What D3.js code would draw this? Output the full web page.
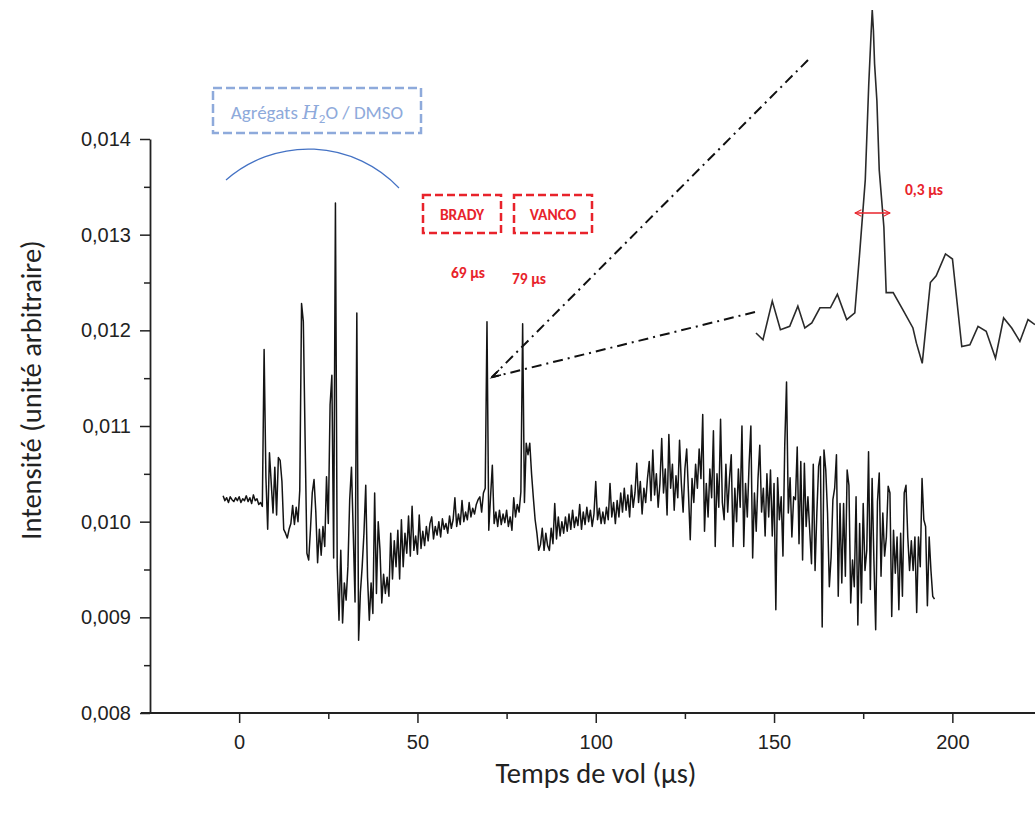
<!DOCTYPE html>
<html>
<head>
<meta charset="utf-8">
<script src="https://cdn.jsdelivr.net/npm/d3@7"></script>
<style>
  body { margin: 0; background: #fff; }
  svg { display: block; }
  .axis path, .axis line { stroke: #222; }
  .y.axis text { font-family: "Liberation Sans", Arial, sans-serif; font-size: 20px; fill: #222; }
  .x.axis text { font-family: "Liberation Sans Narrow", "Liberation Sans", Arial, sans-serif; font-size: 20px; fill: #222; }
  .title { font-family: Carlito, Lato, "Open Sans", sans-serif; font-size: 28.5px; fill: #222; }
  .note { font-family: Carlito, Lato, "Open Sans", sans-serif; font-weight: bold; font-size: 15.5px; fill: #e8232b; }
</style>
</head>
<body>
<svg class="chart"></svg>
<script>
// intensity in units of 1e-3 (arbitrary), one sample every 0.5 µs starting at -4.5 µs
var tStart = -4.5, tStep = 0.5;
var intensity = [
  10.27, 10.22, 10.25, 10.20, 10.26, 10.23, 10.21, 10.25, 10.22,
  10.26, 10.20, 10.24, 10.22, 10.27, 10.21, 10.25, 10.19, 10.28, 10.22, 10.24, 10.18, 10.20, 10.16,
  11.80, 10.47, 9.92, 10.72, 10.40, 10.09,
  10.57, 10.07, 10.67, 10.64, 10.42, 9.92,
  9.88, 9.83, 9.92, 9.98, 10.17, 9.97, 10.15, 10.00,
  10.33, 12.28, 12.09, 10.85, 9.67, 9.60,
  9.92, 10.30, 10.44, 10.10, 9.57, 9.92, 9.65, 9.95, 9.74, 10.47,
  9.98, 11.22, 11.53, 9.62, 13.33, 9.53,
  8.97, 9.70, 8.94, 9.36, 9.18, 9.53, 10.23, 10.57, 9.88, 9.16,
  12.18, 8.76, 9.26, 9.53, 9.88, 10.38, 9.42, 8.97, 9.36, 9.04,
  10.30, 9.25, 10.00, 9.70, 9.15, 9.45, 9.25, 9.42, 9.22, 9.88,
  9.40, 9.80, 9.53, 9.91, 9.40, 10.02, 9.53, 9.88, 9.67, 10.06,
  9.64, 10.16, 9.70, 9.85, 9.66, 10.07, 9.72, 9.90, 9.75, 9.95,
  9.80, 9.98, 10.05, 9.82, 9.95, 9.86, 10.00, 9.84, 10.03, 9.92,
  9.98, 9.88, 10.06, 9.93, 10.02, 10.25, 9.95, 10.08, 9.97, 10.22,
  10.00, 10.10, 10.02, 10.20, 10.05, 10.14, 10.08, 10.18, 10.23, 10.26,
  10.10, 10.30, 10.35, 12.09, 9.91, 10.26, 10.59, 9.98, 10.10, 9.95,
  10.12, 9.97, 10.08, 9.99, 10.12, 9.95, 10.05, 9.91, 10.25, 10.05,
  10.18, 10.10, 10.31, 12.07, 10.20, 10.82, 10.70, 10.82, 10.50, 10.25,
  10.02, 9.88, 9.70, 9.76, 9.93, 9.70, 9.88, 9.75, 9.70, 9.93,
  9.77, 10.19, 9.82, 10.05, 9.85, 10.00, 9.88, 10.05, 9.90, 10.08,
  9.92, 10.12, 9.94, 10.05, 9.96, 10.18, 9.92, 10.10, 9.97, 10.15,
  10.00, 10.12, 9.95, 10.08, 10.42, 10.02, 10.14, 9.98, 10.10, 9.98,
  10.15, 10.02, 10.40, 10.05, 10.20, 9.98, 10.22, 10.05, 10.30, 10.10,
  10.35, 10.12, 10.28, 10.05, 10.38, 10.15, 10.30, 10.61, 10.20, 10.42,
  10.08, 10.35, 10.20, 10.45, 10.63, 10.22, 10.75, 10.28, 10.50, 10.15,
  10.40, 10.87, 10.30, 10.55, 10.07, 10.91, 10.35, 10.60, 10.12, 10.48,
  10.25, 10.85, 10.40, 10.10, 10.55, 10.76, 10.30, 9.81, 10.45, 10.20,
  10.60, 10.35, 10.76, 10.45, 11.12, 9.90, 10.40, 10.05, 10.55, 10.25,
  10.95, 9.74, 10.50, 10.15, 11.07, 10.20, 10.02, 10.60, 10.10, 10.45,
  10.70, 9.74, 10.35, 10.00, 10.55, 10.15, 11.00, 9.74, 10.40, 10.05,
  10.60, 11.00, 9.62, 10.30, 9.90, 10.45, 10.80, 10.10, 10.35, 9.85,
  10.50, 10.05, 10.54, 9.85, 10.40, 9.08, 10.46, 10.02, 10.26, 9.64,
  10.80, 11.46, 10.09, 10.46, 9.84, 10.26, 10.23, 10.78, 9.77, 10.63,
  9.60, 10.61, 9.95, 10.26, 9.91, 9.56, 10.60, 9.49, 10.09, 10.58,
  10.68, 8.90, 10.75, 10.54, 10.09, 9.32, 9.63, 10.23, 10.35, 10.70,
  9.22, 10.19, 9.36, 10.19, 9.43, 10.54, 10.38, 9.15, 9.60, 9.32,
  10.26, 8.92, 9.98, 9.15, 10.19, 9.49, 9.70, 10.73, 9.29, 10.45,
  9.60, 8.87, 10.21, 10.51, 9.43, 10.09, 9.64, 9.84, 10.37, 10.30,
  9.01, 9.91, 9.46, 9.84, 9.08, 9.88, 9.22, 10.30, 10.38, 9.84,
  9.49, 9.80, 9.49, 9.84, 9.05, 9.84, 9.53, 10.45, 10.02, 9.95,
  9.12, 9.84, 9.49, 9.22, 9.19
];

// zoom on the BRADY peak (69 µs)
var insetTimes = [
  68.30, 68.36, 68.44, 68.51, 68.59, 68.66, 68.72, 68.78, 68.85, 68.94,
  69.00, 69.08, 69.15, 69.19, 69.24, 69.27, 69.29, 69.30, 69.31, 69.32,
  69.34, 69.36, 69.40, 69.42, 69.48, 69.57, 69.65, 69.68, 69.73, 69.80,
  69.85, 69.93, 69.99, 70.07, 70.14, 70.21, 70.28, 70.36, 70.43, 70.50,
  70.57, 70.64, 70.70
];
var insetValues = [
  10.17, 10.13, 10.36, 10.19, 10.21, 10.33, 10.20, 10.23, 10.32, 10.32,
  10.40, 10.25, 10.29, 10.63, 11.08, 11.65, 11.95, 12.09, 11.97, 11.77,
  11.55, 11.14, 10.80, 10.41, 10.41, 10.30, 10.20, 10.11, 9.99, 10.47,
  10.51, 10.64, 10.61, 10.09, 10.10, 10.21, 10.18, 10.02, 10.26, 10.20,
  10.12, 10.25, 10.22
];

var xTicks = [0, 50, 100, 150, 200];
var xMinorTicks = [25, 75, 125, 175, 225];
var yTicks = [8, 9, 10, 11, 12, 13, 14];
var yTickLabels = ["0,008", "0,009", "0,010", "0,011", "0,012", "0,013", "0,014"];
var yMinorTicks = [8.5, 9.5, 10.5, 11.5, 12.5, 13.5];

var width = 1035, height = 816;

var chart = d3.select(".chart")
    .attr("width", width)
    .attr("height", height);

var xScale = d3.scaleLinear().domain([-25, 225]).range([150, 1041.5]);
var yScale = d3.scaleLinear().domain([8, 14]).range([713, 139]);

// inset scales
var xInset = d3.scaleLinear().domain([68.3, 70.7]).range([756, 1035]);
var yInset = d3.scaleLinear().domain([9.98, 12.09]).range([365, 10]);

// axes
chart.append("g")
    .attr("class", "x axis minor")
    .attr("transform", "translate(0,713)")
    .call(d3.axisBottom(xScale).tickValues(xMinorTicks).tickSize(6).tickFormat(""))
    .call(function(g) { g.select(".domain").remove(); })
    .selectAll("line").attr("stroke-width", 1.5);

chart.append("g")
    .attr("class", "x axis")
    .attr("transform", "translate(0,713)")
    .call(d3.axisBottom(xScale).tickValues(xTicks).tickSize(10).tickSizeOuter(0).tickPadding(12))
    .call(function(g) {
      g.select(".domain").attr("stroke-width", 2.2).attr("d", "M141,0H1041.5");
      g.selectAll("line").attr("stroke-width", 1.5);
    });

chart.append("g")
    .attr("class", "y axis minor")
    .attr("transform", "translate(150,0)")
    .call(d3.axisLeft(yScale).tickValues(yMinorTicks).tickSize(6).tickFormat(""))
    .call(function(g) { g.select(".domain").remove(); })
    .selectAll("line").attr("stroke-width", 1.5);

chart.append("g")
    .attr("class", "y axis")
    .attr("transform", "translate(150,0)")
    .call(d3.axisLeft(yScale).tickValues(yTicks).tickSize(10).tickSizeOuter(0).tickPadding(9)
      .tickFormat(function(d, i) { return yTickLabels[i]; }))
    .call(function(g) {
      g.select(".domain").attr("stroke-width", 1.8);
      g.selectAll("line").attr("stroke-width", 1.5);
    });

chart.append("text")
    .attr("class", "title")
    .attr("x", 596)
    .attr("y", 783)
    .style("text-anchor", "middle")
    .text("Temps de vol (µs)");

chart.append("text")
    .attr("class", "title")
    .attr("transform", "translate(41,390) rotate(-90)")
    .style("text-anchor", "middle")
    .text("Intensité (unité arbitraire)");

// main trace
var line = d3.line()
    .x(function(d, i) { return xScale(tStart + i * tStep); })
    .y(function(d) { return yScale(d); });

chart.append("path")
    .datum(intensity)
    .attr("fill", "none")
    .attr("stroke", "#141414")
    .attr("stroke-width", 1.5)
    .attr("stroke-linejoin", "round")
    .attr("d", line);

// inset trace
var insetLine = d3.line()
    .x(function(d, i) { return xInset(insetTimes[i]); })
    .y(function(d) { return yInset(d); });

chart.append("path")
    .datum(insetValues)
    .attr("fill", "none")
    .attr("stroke", "#2a2a2a")
    .attr("stroke-width", 1.6)
    .attr("d", insetLine);

// zoom guide lines
var defs = chart.append("defs");
defs.append("marker")
    .attr("id", "redarrow")
    .attr("viewBox", "0 0 10 10")
    .attr("refX", 9).attr("refY", 5)
    .attr("markerWidth", 8).attr("markerHeight", 8)
    .attr("markerUnits", "userSpaceOnUse")
    .attr("orient", "auto-start-reverse")
    .append("path")
    .attr("d", "M1,1L9,5L1,9")
    .attr("fill", "none")
    .attr("stroke", "#e8232b")
    .attr("stroke-width", 1.3);

var tip = [491.7, 377.3];
[[808, 60], [755, 312]].forEach(function(end) {
  chart.append("path")
      .attr("d", "M" + end[0] + "," + end[1] + "L" + tip[0] + "," + tip[1])
      .attr("fill", "none")
      .attr("stroke", "#111")
      .attr("stroke-width", 2)
      .attr("stroke-dasharray", "10,5,2,5");
});
chart.append("path")
    .attr("d", "M499,370L492,377.3L501,375")
    .attr("fill", "none")
    .attr("stroke", "#111")
    .attr("stroke-width", 1.5);

// FWHM arrow
chart.append("line")
    .attr("x1", 855).attr("x2", 890)
    .attr("y1", 213).attr("y2", 213)
    .attr("stroke", "#e8232b")
    .attr("stroke-width", 1.3)
    .attr("marker-start", "url(#redarrow)")
    .attr("marker-end", "url(#redarrow)");

chart.append("text").attr("class", "note")
    .attr("x", 924).attr("y", 195)
    .style("text-anchor", "middle")
    .text("0,3 µs");

// aggregates annotation
chart.append("rect")
    .attr("x", 213).attr("y", 88)
    .attr("width", 208).attr("height", 45)
    .attr("fill", "none")
    .attr("stroke", "#8eaadb")
    .attr("stroke-width", 2.5)
    .attr("stroke-dasharray", "9,4");

var agg = chart.append("text")
    .attr("x", 317).attr("y", 119)
    .style("text-anchor", "middle")
    .style("font-family", "Carlito, Lato, 'Open Sans', sans-serif")
    .style("font-size", "19px")
    .style("fill", "#8eaadb");
agg.append("tspan").text("Agrégats ");
agg.append("tspan").style("font-family", "'DejaVu Serif', serif").style("font-style", "italic").text("H");
agg.append("tspan").attr("dy", 4).style("font-size", "13px").text("2");
agg.append("tspan").attr("dy", -4).text("O / DMSO");

chart.append("path")
    .attr("d", "M226,180A125,125 0 0,1 399,188")
    .attr("fill", "none")
    .attr("stroke", "#4472c4")
    .attr("stroke-width", 1.2);

// drug boxes
[["BRADY", 423], ["VANCO", 514]].forEach(function(b) {
  chart.append("rect")
      .attr("x", b[1]).attr("y", 195)
      .attr("width", 78).attr("height", 38)
      .attr("fill", "none")
      .attr("stroke", "#e8232b")
      .attr("stroke-width", 2.5)
      .attr("stroke-dasharray", "8,4");
  chart.append("text").attr("class", "note")
      .attr("x", b[1] + 39).attr("y", 220)
      .style("text-anchor", "middle")
      .text(b[0]);
});

chart.append("text").attr("class", "note")
    .attr("x", 468).attr("y", 278)
    .style("text-anchor", "middle")
    .text("69 µs");
chart.append("text").attr("class", "note")
    .attr("x", 529).attr("y", 284)
    .style("text-anchor", "middle")
    .text("79 µs");
</script>
</body>
</html>
